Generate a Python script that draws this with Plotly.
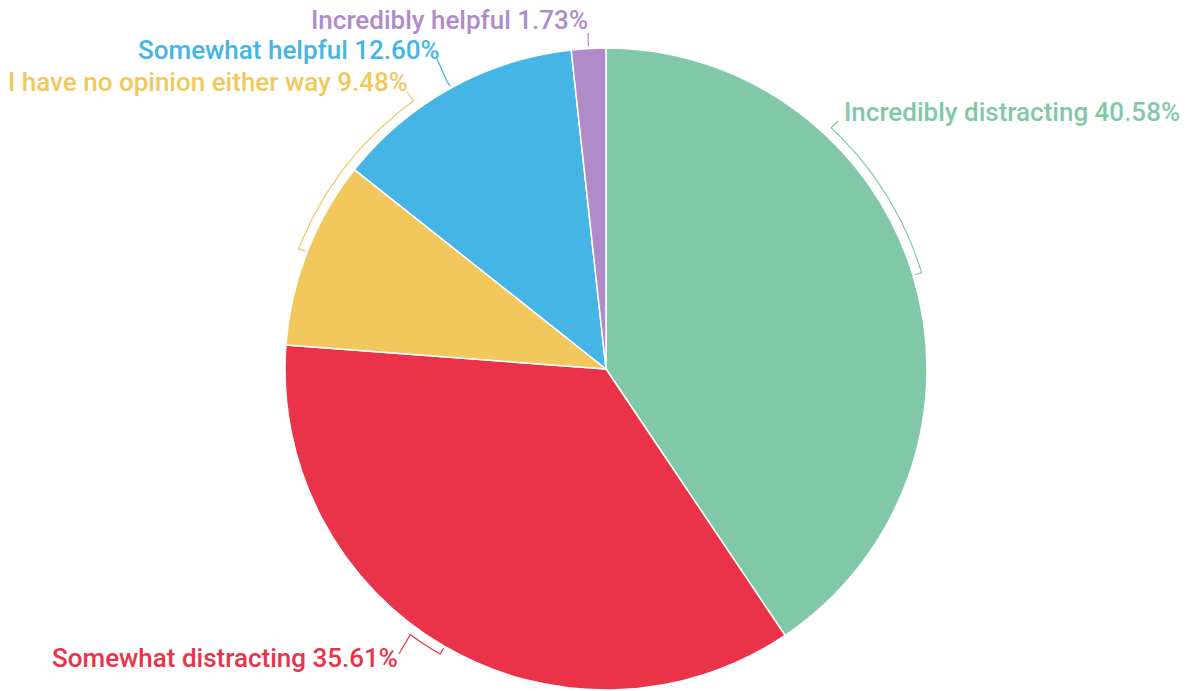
import numpy as np
import plotly.graph_objects as go

# ---- data ----
categories = ["Incredibly distracting", "Somewhat distracting",
              "I have no opinion either way", "Somewhat helpful", "Incredibly helpful"]
values = [40.58, 35.61, 9.48, 12.60, 1.73]
colors = ["#80c8a8", "#ea3349", "#f2c85c", "#45b5e6", "#b18bc9"]

# ---- layout params (pixels) ----
W, H = 1186, 691
CX, CY, R = 606, 369, 321
# per-slice label layout: bracket end angle offset (deg), leader end, text anchor
label_layout = [
    dict(dtheta=-30, lead=(838, 121), tx=843, ty=112, anchor="left"),
    dict(dtheta=6.2, lead=(399, 654), tx=399, ty=658, anchor="right"),
    dict(dtheta=33, lead=(407, 92), tx=409, ty=82, anchor="right"),
    dict(dtheta=0, lead=(437, 59), tx=441, ty=50, anchor="right"),
    dict(dtheta=0, lead=(588, 33), tx=589, ty=20, anchor="right"),
]
FONT = "Roboto"
FSIZE = 26

fig = go.Figure()

fig.add_trace(go.Pie(
    labels=categories, values=values, sort=False, direction="clockwise",
    rotation=0, textinfo="none", hoverinfo="label+percent",
    marker=dict(colors=colors, line=dict(color="white", width=1.5)),
    domain=dict(x=[(CX - R) / W, (CX + R) / W], y=[1 - (CY + R) / H, 1 - (CY - R) / H]),
    showlegend=False,
))

total = sum(values)
cum = 0.0
annotations = []
for cat, v, col, lay in zip(categories, values, colors, label_layout):
    mid = (cum + v / 2) / total * 360.0
    cum += v

    def pt(r, deg):
        a = np.radians(deg)
        return CX + r * np.sin(a), CY - r * np.cos(a)

    xs, ys = [], []
    x0, y0 = pt(R + 2, mid)
    xs.append(x0); ys.append(y0)
    angs = np.linspace(mid, mid + lay["dtheta"], 40)
    for a in angs:
        x, y = pt(R + 9, a)
        xs.append(x); ys.append(y)
    xs.append(lay["lead"][0]); ys.append(lay["lead"][1])
    fig.add_trace(go.Scatter(x=xs, y=ys, mode="lines", line=dict(color=col, width=1.2),
                             hoverinfo="skip", showlegend=False, xaxis="x", yaxis="y"))

    pct = v / total * 100
    annotations.append(dict(
        x=lay["tx"], y=lay["ty"], xref="x", yref="y",
        text=f"{cat} {pct:.2f}%", showarrow=False,
        xanchor=lay["anchor"], yanchor="middle",
        font=dict(family=FONT, size=FSIZE, color=col, weight=500),
        borderpad=0,
    ))

fig.update_layout(
    width=W, height=H, margin=dict(l=0, r=0, t=0, b=0),
    paper_bgcolor="white", plot_bgcolor="rgba(0,0,0,0)",
    xaxis=dict(range=[0, W], visible=False, fixedrange=True, domain=[0, 1]),
    yaxis=dict(range=[H, 0], visible=False, fixedrange=True, domain=[0, 1]),
    annotations=annotations,
    font=dict(family=FONT),
)

fig.write_html("out.html")
